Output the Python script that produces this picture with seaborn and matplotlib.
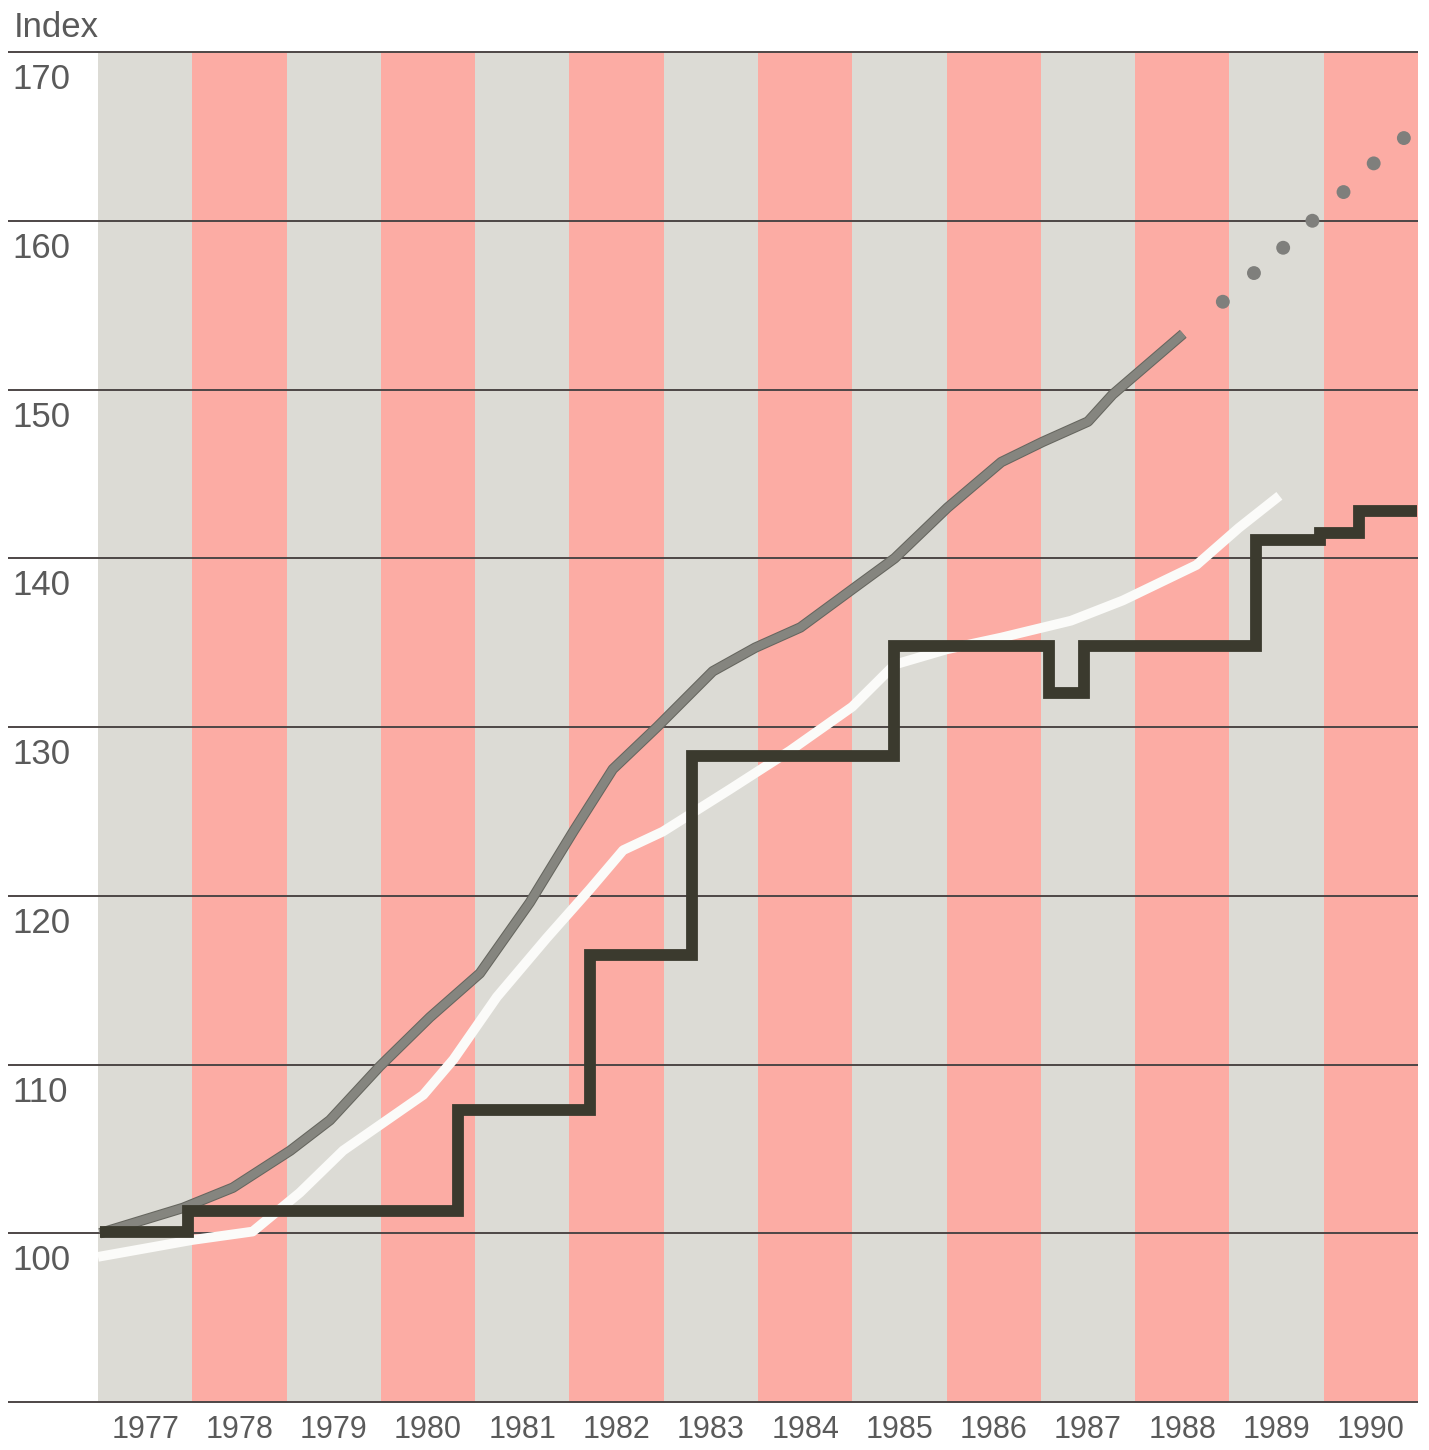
import numpy as np
import pandas as pd
import seaborn as sns
import matplotlib.pyplot as plt
import matplotlib.patheffects as pe

# year bands and y grid
years = [1977, 1978, 1979, 1980, 1981, 1982, 1983, 1984, 1985, 1986, 1987, 1988, 1989, 1990]
grid_levels = [100, 110, 120, 130, 140, 150, 160, 170]

# grey line (x in years after start of 1977)
gray_x = [0.02, 0.9, 1.43, 2.04, 2.46, 2.99, 3.52, 4.05, 4.58, 5.04, 5.46, 5.93,
          6.52, 6.97, 7.45, 8.01, 8.45, 9.01, 9.58, 10.02, 10.50, 10.76, 11.51]
gray_y = [100.0, 101.5, 102.7, 104.9, 106.7, 109.9, 112.8, 115.4, 119.6, 123.8, 127.5, 130.0,
          133.3, 134.7, 135.9, 138.2, 140.0, 143.0, 145.7, 146.9, 148.1, 149.7, 153.3]

# projection dots
dot_x = [11.93, 12.26, 12.57, 12.88, 13.21, 13.53, 13.85]
dot_y = [155.2, 156.9, 158.4, 160.0, 161.7, 163.4, 164.9]

# white line
white_x = [0.0, 1.0, 1.64, 2.14, 2.6, 3.45, 3.77, 4.23, 4.76, 5.22, 5.57, 5.99,
           6.70, 7.34, 8.0, 8.45, 9.0, 9.58, 10.32, 10.87, 11.65, 12.1, 12.53]
white_y = [98.6, 99.6, 100.1, 102.4, 104.9, 108.2, 110.3, 114.0, 117.5, 120.4, 122.7, 123.8,
           126.3, 128.6, 131.2, 133.7, 134.6, 135.3, 136.3, 137.5, 139.6, 141.8, 143.7]

# black step line
step_x = [0.02, 0.95, 3.82, 5.22, 6.30, 8.44, 10.09, 10.46, 12.28, 12.96, 13.37, 13.99]
step_y = [100.1, 101.3, 107.3, 116.5, 128.3, 134.8, 132.0, 134.8, 141.1, 141.5, 142.8, 142.8]

sns.set_theme(style='white')
plt.rcParams['font.family'] = ['Liberation Sans', 'DejaVu Sans']

W, H = 1429, 1450
fig = plt.figure(figsize=(W / 100, H / 100), dpi=100)
ax = fig.add_axes([98 / W, 48 / H, 1320 / W, 1350 / H])

band_colors = ['#dcdbd5', '#fcaca4']
for i, yr in enumerate(years):
    ax.axvspan(i, i + 1, color=band_colors[i % 2], lw=0, zorder=0)

ax.hlines(grid_levels + [90], xmin=-90 / 1320, xmax=1.0, transform=ax.get_yaxis_transform(),
          colors='#4d4646', lw=1.4, clip_on=False, zorder=1)

txt_col = '#5a5a5a'
for v in grid_levels:
    ax.text(-86 / 1320, v - 2.2, str(v), transform=ax.get_yaxis_transform(),
            ha='left', va='baseline', fontsize=25, color=txt_col)

sns.lineplot(x=gray_x, y=gray_y, ax=ax, color='#85857f', lw=6.0, sort=False,
             estimator=None, zorder=3, solid_capstyle='butt',
             path_effects=[pe.Stroke(linewidth=7.5, foreground='#66665f'), pe.Normal()])
sns.scatterplot(x=dot_x, y=dot_y, ax=ax, s=100, color='#7f7f7c', edgecolor='none', zorder=3)
sns.lineplot(x=white_x, y=white_y, ax=ax, color='#fbfbf9', lw=7.0, sort=False,
             estimator=None, zorder=4, solid_capstyle='butt')
sns.lineplot(x=step_x, y=step_y, ax=ax, color='#3b3a2e', lw=8.5, sort=False,
             estimator=None, drawstyle='steps-post', zorder=5,
             solid_joinstyle='miter', solid_capstyle='butt')

ax.set_xlim(0, 14)
ax.set_ylim(90, 170)
ax.set_xticks(np.arange(len(years)) + 0.5, [str(y) for y in years])
ax.set_yticks([])
ax.tick_params(axis='x', length=0, pad=9, labelsize=22, labelcolor=txt_col)
for s in ax.spines.values():
    s.set_visible(False)
ax.set_xlabel('')
ax.set_ylabel('')

fig.text(14 / W, 1 - 37 / H, 'Index', ha='left', va='baseline', fontsize=25, color=txt_col)

fig.savefig('out.png', dpi=100)
